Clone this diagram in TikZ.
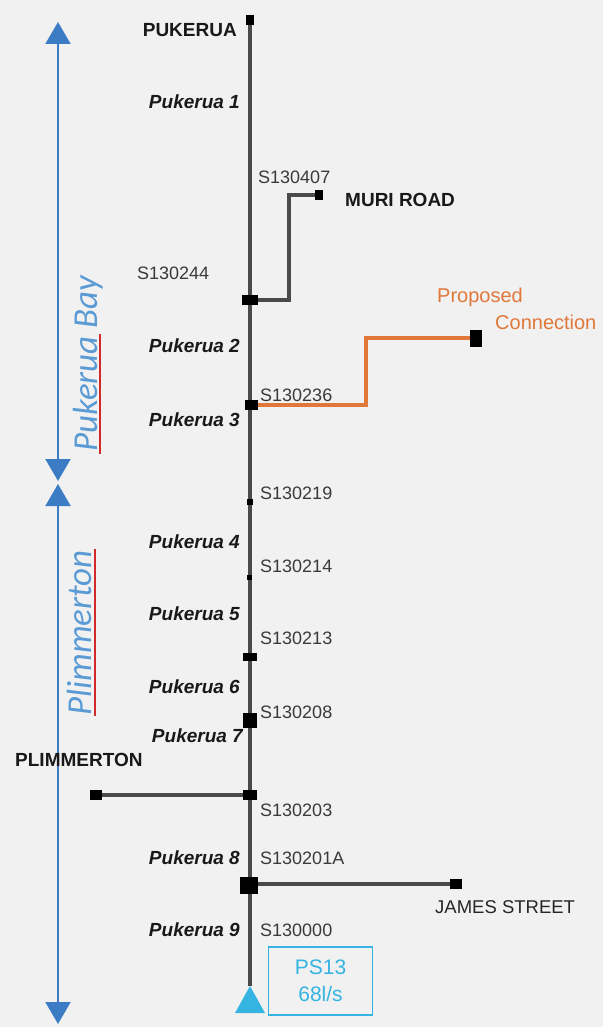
\documentclass[tikz,border=0pt]{standalone}
\usepackage{fontspec}
\setmainfont{Liberation Sans}
\newfontfamily\calfont{Carlito}
\usetikzlibrary{arrows.meta}
\definecolor{bg}{HTML}{F1F1F1}
\definecolor{pipe}{HTML}{4A4A4A}
\definecolor{sblue}{HTML}{3C7CC4}
\definecolor{tblue}{HTML}{5B9BD5}
\definecolor{uline}{HTML}{D02A2A}
\definecolor{orng}{HTML}{E0783A}
\definecolor{cyanps}{HTML}{35B4E2}
\definecolor{slab}{HTML}{3A3A3A}
\tikzset{
  pipeline/.style={draw=pipe,line width=4.5pt},
  branch/.style={draw=pipe,line width=3.5pt},
  prop/.style={draw=orng,line width=4.5pt},
  mh/.style={fill=black,inner sep=0pt,minimum width=#1,minimum height=#1},
  mhr/.style 2 args={fill=black,inner sep=0pt,minimum width=#1,minimum height=#2},
  slabel/.style={anchor=west,inner sep=0pt,text=slab,font=\fontsize{18}{20}\selectfont},
  plabel/.style={anchor=east,inner sep=0pt,text=black!90,font=\fontsize{19}{21}\selectfont\bfseries\itshape},
  place/.style={inner sep=0pt,text=black!90,font=\fontsize{19}{21}\selectfont\bfseries},
  area/.style={rotate=90,anchor=base west,inner sep=0pt,text=tblue,font=\fontsize{35}{38}\selectfont\calfont\itshape},
  span/.style={draw=sblue,line width=2pt,{Triangle[width=25pt,length=22pt]}-{Triangle[width=25pt,length=22pt]}},
}
\begin{document}
\begin{tikzpicture}[x=1pt,y=-1pt]
\useasboundingbox (0,0) rectangle (603,1027);
\fill[bg] (0,0) rectangle (603,1027);

% span arrows
\coordinate (a1) at (58,22);
\coordinate (a2) at (58,481);
\coordinate (b1) at (58,484);
\coordinate (b2) at (58,1024);
\draw[span] (a1) -- (a2);
\draw[span] (b1) -- (b2);

% area labels
\node[area] (bay) at (97,452) {Pukerua Bay};
\draw[uline,line width=1.6pt] (100,454) -- (100,334);
\node[area] (plim) at (91,716) {Plimmerton};
\draw[uline,line width=1.6pt] (95,716) -- (95,549);

% manholes on main line (positions)
\node[mhr={8pt}{10pt}] (top) at (250,20) {};
\node[mhr={16pt}{10pt}] (m244) at (250,300) {};
\node[mhr={13pt}{10pt}] (m236) at (251,405) {};
\node[mh=6pt] (m219) at (250,502) {};
\node[mh=5pt] (m214) at (249,577) {};
\node[mhr={14pt}{8pt}] (m213) at (250,657) {};
\node[mhr={14pt}{15pt}] (m208) at (250,720) {};
\node[mhr={14pt}{10pt}] (m203) at (250,795) {};
\node[mhr={18pt}{17pt}] (m201) at (249,885) {};
\coordinate (ps) at (250,986);

% pump station triangle
\fill[cyanps] (235,1013) -- (265,1013) -- (ps) -- cycle;

% main line
\draw[pipeline] (top.center) -- (ps);

% Muri Road branch
\node[mhr={8pt}{10pt}] (muri) at (319,195) {};
\draw[branch] (m244.east) -| (289,195) -- (muri.west);

% Proposed connection
\node[mhr={12pt}{17pt}] (prop) at (476,338) {};
\draw[prop] (m236.east) -| (366,338) -- (prop.west);

% Plimmerton branch
\node[mhr={12pt}{10pt}] (plimend) at (96,795) {};
\draw[branch] (plimend.east) -- (m203.west);

% James Street branch
\node[mhr={12pt}{10pt}] (james) at (456,884) {};
\draw[branch] (m201.east |- james) -- (james.west);

% redraw manholes on top of the lines
\node[mhr={8pt}{10pt}] at (top.center) {};
\node[mhr={16pt}{10pt}] at (m244.center) {};
\node[mhr={13pt}{10pt}] at (m236.center) {};
\node[mh=6pt] at (m219.center) {};
\node[mh=5pt] at (m214.center) {};
\node[mhr={14pt}{8pt}] at (m213.center) {};
\node[mhr={14pt}{15pt}] at (m208.center) {};
\node[mhr={14pt}{10pt}] at (m203.center) {};
\node[mhr={18pt}{17pt}] at (m201.center) {};

% PS13 box
\node[draw=cyanps,line width=1.2pt,minimum width=104pt,minimum height=68pt,inner sep=0pt,
      align=center,text=cyanps,font=\fontsize{21}{27}\selectfont] (psbox) at (320.5,981) {PS13\\68l/s};

% place labels
\node[place,anchor=east] (lpuk) at (237,30) {PUKERUA};
\node[place,anchor=west] (lmuri) at (345,200) {MURI ROAD};
\node[place,anchor=west] (lplim) at (15,760) {PLIMMERTON};
\node[slabel,text=black!85,font=\fontsize{18.5}{20}\selectfont] (ljames) at (435,907) {JAMES STREET};
\node[anchor=west,inner sep=0pt,text=orng,font=\fontsize{20}{22}\selectfont] (lprop) at (437,297) {Proposed};
\node[anchor=west,inner sep=0pt,text=orng,font=\fontsize{20}{22}\selectfont] (lconn) at (495,322) {Connection};

% segment labels
\node[plabel] (p1) at (240,102) {Pukerua 1};
\node[plabel] (p2) at (240,346) {Pukerua 2};
\node[plabel] (p3) at (240,420) {Pukerua 3};
\node[plabel] (p4) at (240,542) {Pukerua 4};
\node[plabel] (p5) at (240,614) {Pukerua 5};
\node[plabel] (p6) at (240,687) {Pukerua 6};
\node[plabel] (p7) at (243,736) {Pukerua 7};
\node[plabel] (p8) at (240,858) {Pukerua 8};
\node[plabel] (p9) at (240,930) {Pukerua 9};

% manhole ids
\node[slabel] (s407) at (258,177) {S130407};
\node[slabel] (s244) at (137,273) {S130244};
\node[slabel] (s236) at (260,395) {S130236};
\node[slabel] (s219) at (260,493) {S130219};
\node[slabel] (s214) at (260,566) {S130214};
\node[slabel] (s213) at (260,638) {S130213};
\node[slabel] (s208) at (260,712) {S130208};
\node[slabel] (s203) at (260,810) {S130203};
\node[slabel] (s201) at (260,858) {S130201A};
\node[slabel] (s000) at (260,930) {S130000};
\end{tikzpicture}
\end{document}
